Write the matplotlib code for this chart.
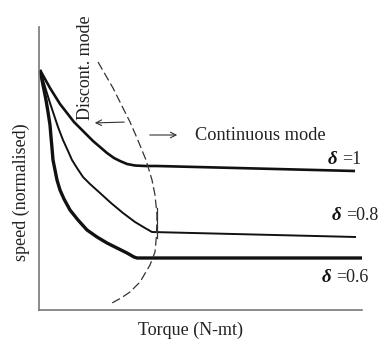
import matplotlib.pyplot as plt

# schematic values (torque / speed in arbitrary units)
torque_d1 = [1, 6, 11, 16, 21, 28, 35, 41, 48, 54, 61, 68, 75, 81, 88, 96, 106, 118, 316]
speed_d1 = [240, 231, 222, 214, 206, 197, 188, 182, 175, 169, 163, 157, 152, 149, 146, 144.5, 144, 144, 139]

torque_d08 = [1, 4, 7, 11, 15, 19, 24, 29, 33, 38, 44, 51, 61, 72, 84, 96, 106, 113, 317]
speed_d08 = [240, 230, 220, 207, 195, 183, 170, 159, 150, 142, 133, 126, 117, 107, 97, 88, 82, 78, 73]

torque_d06 = [1, 3, 5, 7, 9, 11, 12, 13, 14, 16, 18, 21, 25, 31, 39, 48, 58, 68, 78, 88, 95, 98, 328]
speed_d06 = [240, 230, 220, 210, 198, 185, 173, 162, 150, 140, 130, 120, 111, 100, 90, 80, 73, 67, 62, 57, 53, 52, 52]

# boundary between discontinuous / continuous conduction
torque_bnd = [59, 74, 91, 98, 107, 113, 116, 118, 117.5, 116, 111, 101, 91, 82, 73]
speed_bnd = [248, 222, 188, 172, 150, 130, 115, 95, 75, 58, 45, 28, 18, 12, 7]

labels = ['=1', '=0.8', '=0.6']

plt.rcParams['font.family'] = ['Liberation Serif', 'DejaVu Serif']
fig = plt.figure(figsize=(3.86, 3.42), dpi=100)
ax = fig.add_axes([39/386, 32/342, 323/386, 283/342])

ink = '#111111'
ax.plot(torque_d1, speed_d1, color=ink, lw=1.9, solid_capstyle='butt')
ax.plot(torque_d08, speed_d08, color=ink, lw=1.4, solid_capstyle='butt')
ax.plot(torque_d06, speed_d06, color=ink, lw=2.4, solid_capstyle='butt')
ax.plot(torque_bnd, speed_bnd, color='#333333', lw=0.9, dashes=(7, 3))
ax.plot([118, 118], [72, 102], color='#333333', lw=0.9)

ax.set_xlim(0, 323)
ax.set_ylim(0, 283)
for side in ['top', 'right']:
    ax.spines[side].set_visible(False)
for side in ['left', 'bottom']:
    ax.spines[side].set_color('#777777')
    ax.spines[side].set_linewidth(1.2)
ax.set_xticks([])
ax.set_yticks([])

# delta labels
for (x, y), lab in zip([(289, 151), (293, 95), (283, 33)], labels):
    ax.text(x, y, 'δ', fontsize=13.5, fontweight='bold', style='italic',
            color=ink, ha='left', va='center')
    ax.text(x + 14, y - 1, lab, fontsize=13, color='#222222', ha='left', va='center')

ax.text(156, 174, 'Continuous mode', fontsize=13.2, color='#222222', ha='left', va='center')
ax.text(46, 190, 'Discont. mode', fontsize=13, color='#222222', rotation=90,
        ha='center', va='bottom')

ax.annotate('', xy=(53, 187), xytext=(88, 188),
            arrowprops=dict(arrowstyle='->', lw=0.8, color='#333333'))
ax.annotate('', xy=(141, 175), xytext=(108, 175),
            arrowprops=dict(arrowstyle='->', lw=0.8, color='#333333'))

fig.text(21/386, 1 - 192/342, 'speed (normalised)', fontsize=13, color='#222222',
         rotation=90, ha='center', va='center')
fig.text(190/386, 1 - 330/342, 'Torque (N-mt)', fontsize=13, color='#222222',
         ha='center', va='center')

fig.savefig('out.png', dpi=100, facecolor='white')
